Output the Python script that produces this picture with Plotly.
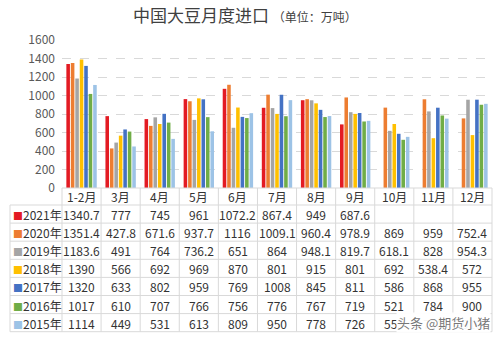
import plotly.graph_objects as go

# Monthly soybean imports into China, 10k tonnes
months = ["1-2月", "3月", "4月", "5月", "6月", "7月", "8月", "9月", "10月", "11月", "12月"]
years = ["2021年", "2020年", "2019年", "2018年", "2017年", "2016年", "2015年"]

y2021 = [1340.7, 777, 745, 961, 1072.2, 867.4, 949, 687.6, None, None, None]
y2020 = [1351.4, 427.8, 671.6, 937.7, 1116, 1009.1, 960.4, 978.9, 869, 959, 752.4]
y2019 = [1183.6, 491, 764, 736.2, 651, 864, 948.1, 819.7, 618.1, 828, 954.3]
y2018 = [1390, 566, 692, 969, 870, 801, 915, 801, 692, 538.4, 572]
y2017 = [1320, 633, 802, 959, 769, 1008, 845, 811, 586, 868, 955]
y2016 = [1017, 610, 707, 766, 756, 776, 767, 719, 521, 784, 900]
y2015 = [1114, 449, 531, 613, 809, 950, 778, 726, 553, 750, 910]

series = [y2021, y2020, y2019, y2018, y2017, y2016, y2015]
colors = ["#E31B23", "#ED7D31", "#A5A5A5", "#FFC000", "#4472C4", "#70AD47", "#9DC3E6"]

y_ticks = [0, 200, 400, 600, 800, 1000, 1200, 1400, 1600]

W, H = 499, 339
ML, MR, MT, MB = 62, 7, 40, 151
PW, PH = W - ML - MR, H - MT - MB
BASE = MT + PH  # pixel row of the value axis zero line

def py(p):
    """pixel row -> paper y"""
    return (BASE - p) / PH

def px(p):
    """pixel column -> paper x"""
    return (p - ML) / PW

fig = go.Figure()
for name, vals, col in zip(years, series, colors):
    fig.add_trace(go.Bar(x=months, y=vals, name=name, marker=dict(color=col, line=dict(width=0))))

# table geometry (pixels)
cat_bottom = 205
row_h = 18.1
n_rows = len(years)
table_bottom = cat_bottom + row_h * n_rows
grid_col = "#D9D9D9"
text_col = "#333333"

shapes = []
# horizontal rules
shapes.append(dict(type="line", xref="paper", yref="paper", x0=0, x1=1, y0=0, y1=0,
                   line=dict(color=grid_col, width=1)))
for r in range(n_rows + 1):
    yy = py(cat_bottom + r * row_h)
    shapes.append(dict(type="line", xref="paper", yref="paper", x0=px(10), x1=1, y0=yy, y1=yy,
                       line=dict(color=grid_col, width=1)))
# vertical rules
n_cat = len(months)
for k in range(n_cat + 1):
    xx = k / n_cat
    shapes.append(dict(type="line", xref="paper", yref="paper", x0=xx, x1=xx, y0=0, y1=py(table_bottom),
                       line=dict(color=grid_col, width=1)))
shapes.append(dict(type="line", xref="paper", yref="paper", x0=px(10), x1=px(10),
                   y0=py(cat_bottom), y1=py(table_bottom), line=dict(color=grid_col, width=1)))

annotations = []
# month header row
for m in months:
    annotations.append(dict(x=m, xref="x", y=py((BASE + cat_bottom) / 2), yref="paper", text=m,
                            showarrow=False, xanchor="center", yanchor="middle",
                            font=dict(size=12, color=text_col)))
# data rows
def fmt(v):
    return ("%g" % v) if v is not None else ""

for r, (name, vals, col) in enumerate(zip(years, series, colors)):
    yc = py(cat_bottom + (r + 0.5) * row_h + 0.5)
    annotations.append(dict(x=px(11), xref="paper", y=yc, yref="paper",
                            text="<span style='color:%s;font-size:10px'>■</span>%s" % (col, name),
                            showarrow=False, xanchor="left", yanchor="middle",
                            font=dict(size=12, color=text_col)))
    for m, v in zip(months, vals):
        if v is None:
            continue
        annotations.append(dict(x=m, xref="x", y=yc, yref="paper", text=fmt(v),
                                showarrow=False, xanchor="center", yanchor="middle",
                                font=dict(size=12, color=text_col)))

# title
annotations.append(dict(x=px(245), xref="paper", y=py(14), yref="paper",
                        text="中国大豆月度进口 <span style='font-size:12px'>（单位：万吨）</span>",
                        showarrow=False, xanchor="center", yanchor="middle",
                        font=dict(size=17, color="#404040")))
# watermark over the bottom-right corner of the table
annotations.append(dict(x=px(396), xref="paper", y=py(322.5), yref="paper",
                        text="头条 @期货小猪", showarrow=False, xanchor="left", yanchor="middle",
                        bgcolor="rgba(255,255,255,0.95)", borderpad=0,
                        font=dict(size=13, color="rgba(95,95,95,0.85)")))

fig.update_layout(
    width=W, height=H,
    margin=dict(l=ML, r=MR, t=MT, b=MB),
    paper_bgcolor="white", plot_bgcolor="white",
    font=dict(family="Noto Sans CJK SC", size=12, color=text_col),
    barmode="group", bargap=0.2, bargroupgap=0.2,
    showlegend=False,
    xaxis=dict(type="category", showticklabels=False, showgrid=False, zeroline=False,
               showline=False, ticks="", range=[-0.5, n_cat - 0.5], fixedrange=True),
    yaxis=dict(range=[0, 1600], tickvals=y_ticks, showgrid=True, gridcolor=grid_col,
               griddash="dash", gridwidth=1, zeroline=False, showline=False, ticks="",
               tickfont=dict(size=12, color="#595959"), ticklabelstandoff=6, fixedrange=True),
    shapes=shapes,
    annotations=annotations,
)

fig.write_html("out.html")
